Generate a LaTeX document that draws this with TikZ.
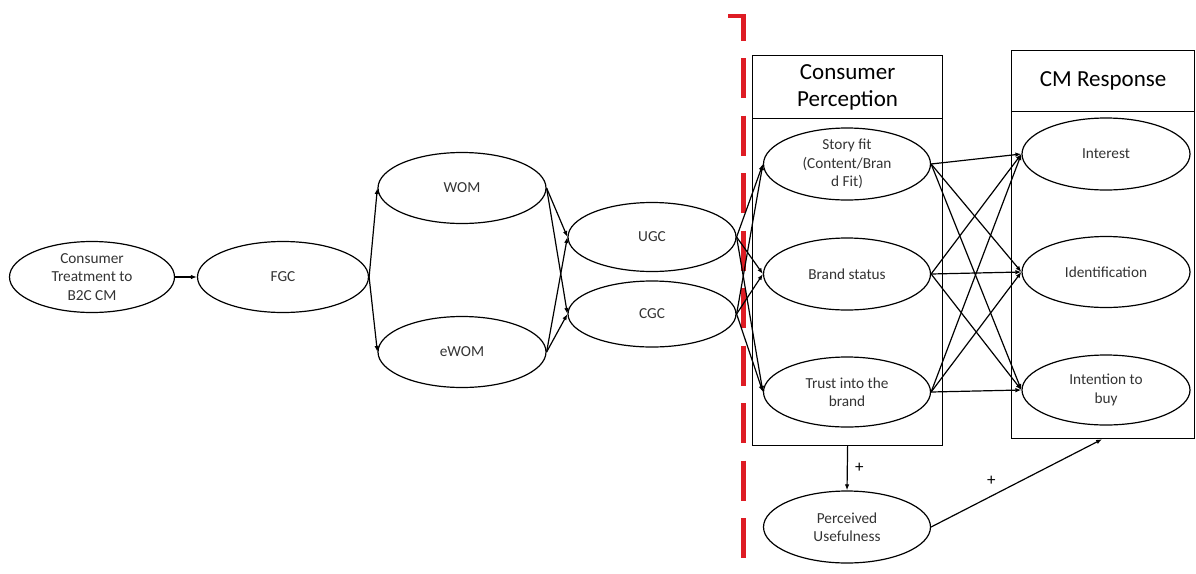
\documentclass[tikz,border=0pt]{standalone}
\usepackage{fontspec}
\setmainfont{Carlito}
\usetikzlibrary{shapes.geometric,arrows.meta,calc}
\definecolor{divred}{RGB}{222,28,36}
\begin{document}
\begin{tikzpicture}[x=1pt,y=-1pt,
  oval/.style={ellipse, draw, line width=1.2pt, inner sep=0pt,
    minimum width=168pt, minimum height=71pt,
    font=\fontsize{15.3}{18.5}\selectfont, align=center, text=black!80},
  panel/.style={rectangle, draw, line width=1.2pt, inner sep=0pt, anchor=north west},
  headtext/.style={font=\fontsize{23}{27}\selectfont, align=center},
  link/.style={draw, line width=1.2pt, -{Latex[length=6pt,width=4.5pt]}},
  sign/.style={font=\fontsize{17}{17}\selectfont}]
\useasboundingbox (0,0) rectangle (1196,573);

% dividing line between the two halves of the model
\coordinate (divtop) at (728,16);
\coordinate (divcorner) at (743.5,16);
\coordinate (divend) at (743.5,562);
\draw[divred, line width=4.5pt, dash pattern=on 40pt off 17.5pt]
  (divtop) -- (divcorner) -- (divend);

% group panels
\node[panel, minimum width=190pt, minimum height=63pt, headtext] (perchead) at (752,55) {Consumer\\Perception};
\node[panel, minimum width=190pt, minimum height=327pt] (percbody) at (752,118) {};
\node[panel, minimum width=183pt, minimum height=61pt, headtext] (cmhead) at (1011,50) {CM Response};
\node[panel, minimum width=183pt, minimum height=327pt] (cmbody) at (1011,111) {};

% constructs
\node[oval, minimum width=165pt] (ct) at (92,277) {Consumer\\Treatment to\\B2C CM};
\node[oval, minimum width=171pt] (fgc) at (283,277) {FGC};
\node[oval] (wom) at (462,188) {WOM};
\node[oval] (ewom) at (462,352) {eWOM};
\node[oval, minimum height=69pt] (ugc) at (652,237) {UGC};
\node[oval, minimum height=66pt] (cgc) at (652,314) {CGC};
\node[oval, minimum width=167pt, minimum height=72pt] (story) at (847,164) {Story fit\\(Content/Bran\\d Fit)};
\node[oval, minimum width=167pt, minimum height=72pt] (brand) at (847,274) {Brand status};
\node[oval, minimum width=167pt, minimum height=70pt] (trust) at (847,392) {Trust into the\\brand};
\node[oval, minimum width=167pt, minimum height=72pt] (useful) at (847,527) {Perceived\\Usefulness};
\node[oval, minimum height=72pt] (interest) at (1106,154) {Interest};
\node[oval, minimum height=71pt] (ident) at (1106,272) {Identification};
\node[oval, minimum height=70pt] (intent) at (1106,390) {Intention to\\buy};

% paths
\draw[link] (ct.east) -- (fgc.west);
\draw[link] (fgc.east) -- (wom.west);
\draw[link] (fgc.east) -- (ewom.west);
\foreach \s in {wom,ewom}
  \foreach \t in {ugc,cgc}
    \draw[link] (\s.east) -- (\t.west);
\foreach \s in {ugc,cgc}
  \foreach \t in {story,brand,trust}
    \draw[link] (\s.east) -- (\t.west);
\foreach \s in {story,brand,trust}
  \foreach \t in {interest,ident,intent}
    \draw[link] (\s.east) -- (\t.west);

\coordinate (cmfoot) at ($(cmbody.south west)!0.495!(cmbody.south east)$);
\draw[link] (percbody.south) -- node[sign, right=4pt, pos=0.5] (plusa) {+} (useful.north);
\draw[link] (useful.east) -- node[sign, above=5pt, xshift=-3pt, pos=0.37] (plusb) {+} (cmfoot);
\end{tikzpicture}
\end{document}
